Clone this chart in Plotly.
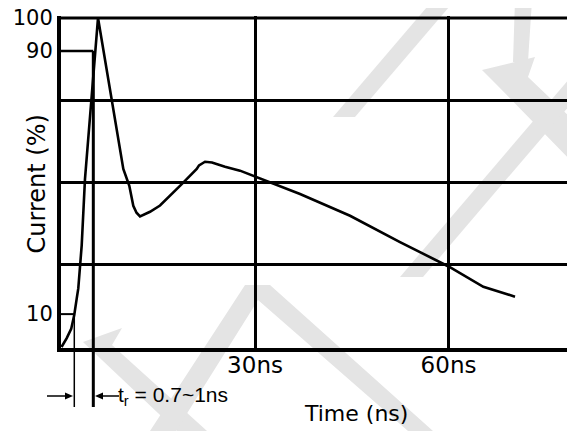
import plotly.graph_objects as go

# ---- data ----
time_ns = [0, 0.81, 1.5, 1.98, 2.36, 2.60, 3.13, 3.49, 3.64, 5.66, 7.78, 9.58, 10.51,
           11.13, 11.63, 12.17, 13.72, 15.27, 18.64, 20.96, 21.32, 22.25, 23.33, 25.35,
           27.67, 33.88, 36.98, 44.73, 52.48, 60.08, 65.40, 70.31]
current_pct = [0, 2.7, 5.5, 9.8, 14.8, 17.8, 30.9, 46.0, 51.1, 100, 75.2, 54.1, 49.0,
               42.9, 40.8, 39.7, 41.1, 43.0, 49.5, 54.1, 55.2, 56.3, 56.1, 54.8,
               53.6, 49.0, 46.5, 39.9, 31.9, 24.4, 18.3, 15.3]

x_tick_vals = [30, 60]
x_tick_text = ["30ns", "60ns"]
y_tick_vals = [10, 90, 100]
y_tick_text = ["10", "90", "100"]
y_grid_vals = [25, 50, 75]
t10_ns = 1.98   # time at 10 %
t90_ns = 4.93   # time at 90 %
rise_label = "t<sub>r</sub> = 0.7~1ns"

XMIN, XMAX = -0.08, 80.85
YMIN, YMAX = -0.3, 100.6

W, H = 575, 431
OFF = 8  # page body margin offset of the figure on screen
# plot area in screen pixels
SL, ST, SB, SR = 61, 16, 348, 583
ML, MT, MB, MR = SL - OFF, ST - OFF, H - (SB - OFF), 0
PW, PH = SR - SL, SB - ST


def ypaper(v):
    return (v - YMIN) / (YMAX - YMIN)


def px(xs):
    return (xs - SL) / PW


def py(ys):
    return (SB - ys) / PH


fig = go.Figure()
fig.add_trace(go.Scatter(x=time_ns, y=current_pct, mode="lines",
                         line=dict(color="black", width=2.6), hoverinfo="skip"))

# ---- watermark (decorative, light gray) ----
wm_polys = [
    [(433, 0), (455, 0), (355, 117), (333, 117)],
    [(515, 0), (532, 0), (528, 62), (513, 62)],
    [(482, 70), (535, 57), (528, 77), (575, 122), (575, 165), (497, 85)],
    [(400, 277), (423, 277), (575, 99), (575, 72)],
    [(83, 342), (122, 328), (112, 345), (207, 431), (177, 431)],
    [(150, 431), (245, 285), (270, 285), (433, 431), (408, 431), (258, 300), (176, 431)],
]


def poly_path(poly):
    return "M " + " L ".join(f"{px(a):.4f},{py(b):.4f}" for a, b in poly) + " Z"


shapes = []
for poly in wm_polys:
    shapes.append(dict(type="path", path=poly_path(poly), xref="paper", yref="paper",
                       fillcolor="#e4e4e4", line=dict(width=0), layer="below"))

# top (100 %) line
shapes.append(dict(type="line", xref="x domain", x0=0, x1=1, yref="y", y0=100, y1=100,
                   line=dict(color="black", width=3)))
# 90 % and 10 % marker lines
shapes.append(dict(type="line", xref="x", x0=XMIN, x1=t90_ns, yref="y", y0=90, y1=90,
                   line=dict(color="black", width=2.5)))
shapes.append(dict(type="line", xref="x", x0=XMIN, x1=t10_ns, yref="y", y0=10, y1=10,
                   line=dict(color="black", width=2)))
# vertical rise-time markers extending below the axis
shapes.append(dict(type="line", xref="x", x0=t10_ns, x1=t10_ns, yref="paper",
                   y0=ypaper(10), y1=py(407), line=dict(color="black", width=1.5)))
shapes.append(dict(type="line", xref="x", x0=t90_ns, x1=t90_ns, yref="paper",
                   y0=ypaper(90), y1=py(407), line=dict(color="black", width=3)))

# arrows pointing at the rise-time markers
AY = 396
shapes.append(dict(type="line", xref="paper", yref="paper", x0=px(47), x1=px(68),
                   y0=py(AY), y1=py(AY), line=dict(color="black", width=1.5)))
shapes.append(dict(type="path", xref="paper", yref="paper",
                   path=poly_path([(73, AY), (65, AY - 3.5), (65, AY + 3.5)]),
                   fillcolor="black", line=dict(width=0)))
shapes.append(dict(type="line", xref="paper", yref="paper", x0=px(100), x1=px(119),
                   y0=py(AY), y1=py(AY), line=dict(color="black", width=1.5)))
shapes.append(dict(type="path", xref="paper", yref="paper",
                   path=poly_path([(95, AY), (103, AY - 3.5), (103, AY + 3.5)]),
                   fillcolor="black", line=dict(width=0)))

ann = []
ann.append(dict(x=px(116), xref="paper", y=py(396), yref="paper", text=rise_label,
                showarrow=False, xanchor="left", yanchor="middle",
                font=dict(family="Liberation Sans, Arial", size=21, color="black")))
ann.append(dict(x=px(356), xref="paper", y=py(413), yref="paper", text="Time (ns)",
                showarrow=False, xanchor="center", yanchor="middle",
                font=dict(family="DejaVu Sans", size=22, color="black")))
ann.append(dict(x=px(36), xref="paper", y=py(184.5), yref="paper", text="Current (%)",
                textangle=-90, showarrow=False, xanchor="center", yanchor="middle",
                font=dict(family="DejaVu Sans", size=24, color="black")))
ann.append(dict(x=px(8), xref="paper", y=py(371), yref="paper", text="0",
                showarrow=False, xanchor="right", yanchor="middle",
                font=dict(family="DejaVu Sans", size=22, color="black")))

fig.update_layout(
    width=W, height=H,
    margin=dict(l=ML, r=MR, t=MT, b=MB, pad=0),
    paper_bgcolor="white", plot_bgcolor="rgba(0,0,0,0)",
    showlegend=False,
    shapes=shapes, annotations=ann,
    xaxis=dict(range=[XMIN, XMAX], showline=True, linewidth=4, linecolor="black",
               tickmode="array", tickvals=x_tick_vals, ticktext=x_tick_text, ticks="",
               ticklabelstandoff=-7, ticklabeloverflow="allow",
               showgrid=True, gridcolor="black", gridwidth=2.5, zeroline=False,
               automargin=False,
               tickfont=dict(family="DejaVu Sans", size=23, color="black")),
    yaxis=dict(range=[YMIN, YMAX], showline=True, linewidth=4, linecolor="black",
               tickmode="array", tickvals=y_tick_vals, ticktext=y_tick_text, ticks="",
               ticklabeloverflow="allow",
               showgrid=False, zeroline=False, automargin=False,
               minor=dict(tickmode="array", tickvals=y_grid_vals, showgrid=True,
                          gridcolor="black", gridwidth=2.7, ticks=""),
               tickfont=dict(family="DejaVu Sans", size=21, color="black")),
)

fig.write_html("out.html")
